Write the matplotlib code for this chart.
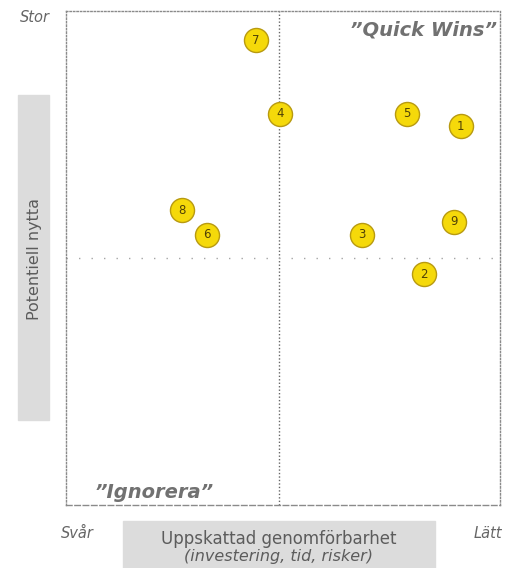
import matplotlib

matplotlib.use("Agg")
import matplotlib.pyplot as plt
from matplotlib.patches import Rectangle

plt.rcParams["font.family"] = ["DejaVu Sans"]

# initiatives: id, feasibility (x), potential benefit (y)
IDS = ["1", "2", "3", "4", "5", "6", "7", "8", "9"]
FEASIBILITY = [9.10, 8.25, 6.83, 4.93, 7.86, 3.24, 4.38, 2.67, 8.95]
BENEFIT = [7.66, 4.67, 5.47, 7.92, 7.92, 5.47, 9.40, 5.96, 5.73]

X_MID = 4.9
Y_MID = 5.0

GOLD = "#f5d90a"
EDGE = "#b89a10"
GRAY = "#8a8a8a"
TEXT = "#5c5c5c"


def main() -> None:
    fig = plt.figure(figsize=(5.07, 5.68), dpi=100)
    ax = fig.add_axes([0.130, 0.111, 0.856, 0.870])
    ax.set_xlim(0, 10)
    ax.set_ylim(0, 10)
    ax.set_xticks([])
    ax.set_yticks([])

    for side in ["left", "right", "top"]:
        ax.spines[side].set_linestyle((0, (1, 1.5)))
        ax.spines[side].set_color(GRAY)
        ax.spines[side].set_linewidth(1.0)
    ax.spines["bottom"].set_linestyle((0, (4, 2)))
    ax.spines["bottom"].set_color(GRAY)
    ax.spines["bottom"].set_linewidth(1.0)

    # quadrant dividers
    ax.axvline(X_MID, color="#666666", linestyle=(0, (1, 1.5)), linewidth=1.0, zorder=1)
    ax.axhline(Y_MID, color="#a5a5a5", linestyle=(0, (1, 8)), linewidth=1.0, zorder=1)

    ax.scatter(FEASIBILITY, BENEFIT, s=300, color=GOLD, edgecolors=EDGE,
               linewidths=1.0, zorder=3)
    for i, x, y in zip(IDS, FEASIBILITY, BENEFIT):
        ax.text(x, y, i, ha="center", va="center", fontsize=8.5, color="#4f4106",
                zorder=4)

    ax.text(9.93, 9.61, "\u201dQuick Wins\u201d", ha="right", va="center", fontsize=14,
            style="italic", weight="bold", color="#717171")
    ax.text(0.67, 0.26, "\u201dIgnorera\u201d", ha="left", va="center", fontsize=14,
            style="italic", weight="bold", color="#717171")

    # axis ends
    fig.text(35 / 507, 1 - 18 / 568, "Stor", ha="center", va="center", fontsize=10.5,
             style="italic", color="#666666")
    fig.text(77 / 507, 1 - 533 / 568, "Svår", ha="center", va="center", fontsize=10.5,
             style="italic", color="#666666")
    fig.text(488 / 507, 1 - 533 / 568, "Lätt", ha="center", va="center", fontsize=10.5,
             style="italic", color="#666666")

    # y label panel
    fig.patches.append(Rectangle((18 / 507, 1 - 420 / 568), 31 / 507, 325 / 568,
                                 transform=fig.transFigure, color="#dcdcdc", zorder=0))
    fig.text(34 / 507, 1 - 259 / 568, "Potentiell nytta", rotation=90, ha="center",
             va="center", fontsize=11.5, color=TEXT)

    # x label panel
    fig.patches.append(Rectangle((123 / 507, 0), 312 / 507, 47 / 568,
                                 transform=fig.transFigure, color="#dcdcdc", zorder=0))
    fig.text(279 / 507, 1 - 539 / 568, "Uppskattad genomförbarhet", ha="center",
             va="center", fontsize=12, color=TEXT)
    fig.text(279 / 507, 1 - 557 / 568, "(investering, tid, risker)", ha="center",
             va="center", fontsize=11.5, style="italic", color=TEXT)

    fig.savefig("out.png", dpi=100)


if __name__ == "__main__":
    main()
